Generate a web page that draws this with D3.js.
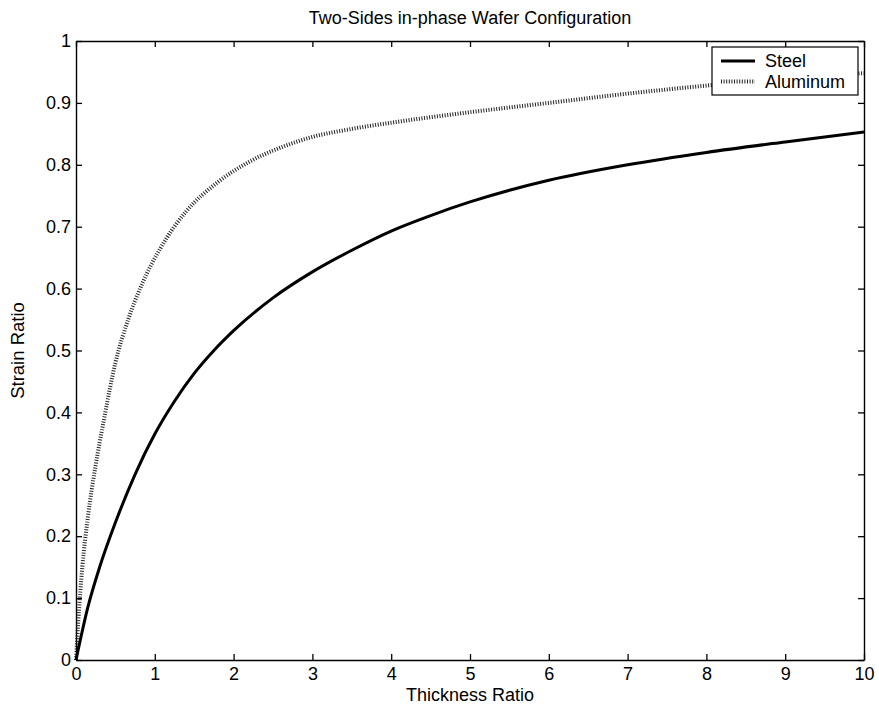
<!DOCTYPE html>
<html>
<head>
<meta charset="utf-8">
<script src="https://cdn.jsdelivr.net/npm/d3@7"></script>
<style>
  body { margin: 0; background: #fff; }
  text { font-family: "Liberation Sans", Arial, sans-serif; fill: #000; }
</style>
</head>
<body>
<script>
// values
const steelX = [0, 0.15, 0.3, 0.5, 0.75, 1, 1.25, 1.5, 1.75, 2, 2.5, 3, 3.5, 4, 4.5, 5, 6, 7, 8, 9, 10];
const steelY = [0, 0.085, 0.15, 0.222, 0.3, 0.365, 0.418, 0.463, 0.5, 0.532, 0.585, 0.627, 0.662, 0.693, 0.718, 0.74, 0.775, 0.8, 0.82, 0.837, 0.853];
const aluX = [0, 0.03, 0.08, 0.15, 0.25, 0.35, 0.5, 0.67, 0.84, 1.07, 1.4, 1.8, 2.2, 2.6, 3, 3.5, 4, 5, 6, 7, 8, 9, 10];
const aluY = [0, 0.065, 0.15, 0.23, 0.315, 0.385, 0.48, 0.553, 0.608, 0.665, 0.725, 0.772, 0.805, 0.828, 0.845, 0.858, 0.868, 0.885, 0.9, 0.915, 0.928, 0.939, 0.948];
const xTicks = [0, 1, 2, 3, 4, 5, 6, 7, 8, 9, 10];
const yTicks = [0, 0.1, 0.2, 0.3, 0.4, 0.5, 0.6, 0.7, 0.8, 0.9, 1];
const seriesNames = ["Steel", "Aluminum"];

const WIDTH = 879;
const HEIGHT = 724;
const LEFT = 76, TOP = 41, RIGHT = 864, BOTTOM = 660;

var translate = function(x, y) {
    return "translate(" + x + "," + y + ")";
};

var xScale = d3.scaleLinear().domain([0, 10]).range([LEFT, RIGHT]);
var yScale = d3.scaleLinear().domain([0, 1]).range([BOTTOM, TOP]);

var svg = d3.select('body').append('svg')
    .attr('width', WIDTH)
    .attr('height', HEIGHT);

var styleAxis = function(g) {
    g.select('.domain').attr('stroke', '#000').attr('stroke-width', 1.4);
    g.selectAll('.tick line').attr('stroke', '#000').attr('stroke-width', 1.3);
    g.selectAll('text').attr('font-size', 18).attr('font-family', '"Liberation Sans", Arial, sans-serif');
};

// bottom / left with labels, ticks pointing inwards
svg.append('g')
    .attr('transform', translate(0, BOTTOM))
    .call(d3.axisBottom(xScale).tickValues(xTicks).tickFormat(d3.format('d'))
        .tickSizeInner(-6).tickSizeOuter(0).tickPadding(7))
    .call(styleAxis);

svg.append('g')
    .attr('transform', translate(LEFT, 0))
    .call(d3.axisLeft(yScale).tickValues(yTicks).tickFormat(function(d) { return d3.format('')(+d.toFixed(1)); })
        .tickSizeInner(-6).tickSizeOuter(0).tickPadding(5))
    .call(styleAxis);

// top / right frame, no labels
svg.append('g')
    .attr('transform', translate(0, TOP))
    .call(d3.axisTop(xScale).tickValues(xTicks).tickFormat('')
        .tickSizeInner(-6).tickSizeOuter(0))
    .call(styleAxis);

svg.append('g')
    .attr('transform', translate(RIGHT, 0))
    .call(d3.axisRight(yScale).tickValues(yTicks).tickFormat('')
        .tickSizeInner(-6).tickSizeOuter(0))
    .call(styleAxis);

var line = d3.line()
    .x(function(d) { return xScale(d[0]); })
    .y(function(d) { return yScale(d[1]); })
    .curve(d3.curveMonotoneX);

svg.append('path')
    .attr('d', line(aluX.map(function(x, i) { return [x, aluY[i]]; })))
    .attr('fill', 'none')
    .attr('stroke', '#222')
    .attr('stroke-width', 4)
    .attr('stroke-dasharray', '1,1.6');

svg.append('path')
    .attr('d', line(steelX.map(function(x, i) { return [x, steelY[i]]; })))
    .attr('fill', 'none')
    .attr('stroke', '#000')
    .attr('stroke-width', 3);

// title and axis labels
svg.append('text')
    .attr('x', (LEFT + RIGHT) / 2)
    .attr('y', 24)
    .attr('text-anchor', 'middle')
    .attr('font-size', 18)
    .text('Two-Sides in-phase Wafer Configuration');

svg.append('text')
    .attr('x', (LEFT + RIGHT) / 2)
    .attr('y', 701)
    .attr('text-anchor', 'middle')
    .attr('font-size', 18)
    .text('Thickness Ratio');

svg.append('text')
    .attr('transform', translate(24, (TOP + BOTTOM) / 2) + ' rotate(-90)')
    .attr('text-anchor', 'middle')
    .attr('font-size', 18.5)
    .text('Strain Ratio');

// legend
var legend = svg.append('g').attr('transform', translate(712, 47));
legend.append('rect')
    .attr('width', 146)
    .attr('height', 48)
    .attr('fill', '#fff')
    .attr('stroke', '#000')
    .attr('stroke-width', 1.2);

legend.selectAll('.item').data(seriesNames)
    .enter()
    .append('g')
    .attr('class', 'item')
    .attr('transform', function(d, i) { return translate(0, 14 + i * 20.5); })
    .each(function(d, i) {
        var g = d3.select(this);
        g.append('line')
            .attr('x1', 9).attr('x2', 43)
            .attr('stroke', i == 0 ? '#000' : '#222')
            .attr('stroke-width', i == 0 ? 3 : 4)
            .attr('stroke-dasharray', i == 0 ? null : '1,1.6');
        g.append('text')
            .attr('x', 53)
            .attr('dy', '0.35em')
            .attr('font-size', 18)
            .text(d);
    });
</script>
</body>
</html>
